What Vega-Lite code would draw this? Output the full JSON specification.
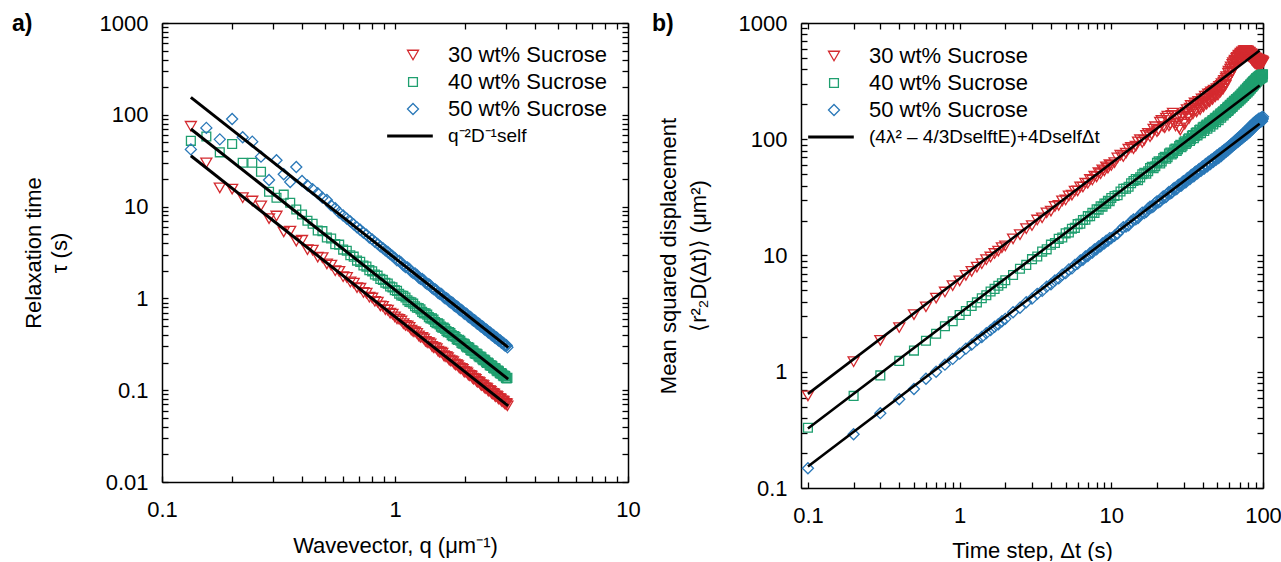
{
"$schema": "https://vega.github.io/schema/vega-lite/v6.json",
"background": "white",
"padding": {"left": 12, "top": 12, "right": 0, "bottom": 0},
"bounds": "flush",
"spacing": 173,
"datasets": {
"qa": [
{"q":0.133,"30":75,"40":52,"50":42},
{"q":0.155,"30":30,"40":58,"50":72},
{"q":0.177,"30":16,"40":39,"50":54},
{"q":0.200,"30":15.5,"40":48,"50":90},
{"q":0.222,"30":12.5,"40":30,"50":57},
{"q":0.244,"30":11.5,"40":30,"50":51},
{"q":0.266,"30":10.2,"40":24,"50":35},
{"q":0.288,"30":7.4,"40":14.5,"50":19.5},
{"q":0.310,"30":7.9,"40":12.5,"50":32},
{"q":0.333,"30":5.3,"40":13.5,"50":22.5},
{"q":0.355,"30":5.4,"40":11,"50":18.5},
{"q":0.377,"30":4.2,"40":9.3,"50":27},
{"q":0.399,"30":4.3,"40":8.2,"50":19},
{"q":0.421,"30":3.4,"40":7.0,"50":17},
{"q":0.443,"30":3.35,"40":6.5,"50":15.5},
{"q":0.466,"30":2.82,"40":5.5,"50":14},
{"q":0.488,"30":2.78,"40":5.4,"50":12.5},
{"q":0.510,"30":2.38,"40":4.6,"50":11.8},
{"q":0.532,"30":2.3,"40":4.5,"50":10.3},
{"q":0.554,"30":2.0,"40":3.9,"50":9.6},
{"q":0.576,"30":1.97,"40":3.85,"50":8.6},
{"q":0.599,"30":1.72,"40":3.4,"50":8.0},
{"q":0.621,"30":1.69,"40":3.3,"50":7.4},
{"q":0.643,"30":1.51,"40":2.95,"50":6.9},
{"q":0.665,"30":1.47,"40":2.85,"50":6.4},
{"q":0.687,"30":1.31,"40":2.58,"50":5.95},
{"q":0.709,"30":1.29,"40":2.5,"50":5.6},
{"q":0.732,"30":1.16,"40":2.28,"50":5.2},
{"q":0.754,"30":1.14,"40":2.22,"50":4.95},
{"q":0.776,"30":1.03,"40":2.03,"50":4.6},
{"q":0.798,"30":1.01,"40":1.97,"50":4.4},
{"q":0.820,"30":0.93,"40":1.82,"50":4.12},
{"q":0.842,"30":0.91,"40":1.77,"50":3.93},
{"q":0.865,"30":0.83,"40":1.63,"50":3.68},
{"q":0.887,"30":0.82,"40":1.59,"50":3.53},
{"q":0.909,"30":0.755,"40":1.48,"50":3.34},
{"q":0.931,"30":0.745,"40":1.45,"50":3.2},
{"q":0.953,"30":0.69,"40":1.35,"50":3.03},
{"q":0.975,"30":0.675,"40":1.32,"50":2.91},
{"q":0.998,"30":0.63,"40":1.23,"50":2.76},
{"q":1.042,"30":0.592,"40":1.125,"50":2.56},
{"q":1.086,"30":0.530,"40":1.066,"50":2.29},
{"q":1.131,"30":0.502,"40":0.955,"50":2.175},
{"q":1.175,"30":0.452,"40":0.909,"50":1.96},
{"q":1.219,"30":0.432,"40":0.822,"50":1.872},
{"q":1.264,"30":0.391,"40":0.786,"50":1.69},
{"q":1.308,"30":0.375,"40":0.713,"50":1.625},
{"q":1.352,"30":0.341,"40":0.687,"50":1.478},
{"q":1.397,"30":0.329,"40":0.625,"50":1.425},
{"q":1.441,"30":0.300,"40":0.606,"50":1.302},
{"q":1.485,"30":0.291,"40":0.553,"50":1.261},
{"q":1.530,"30":0.266,"40":0.537,"50":1.153},
{"q":1.574,"30":0.260,"40":0.493,"50":1.125},
{"q":1.618,"30":0.238,"40":0.480,"50":1.031},
{"q":1.663,"30":0.232,"40":0.442,"50":1.008},
{"q":1.707,"30":0.214,"40":0.431,"50":0.927},
{"q":1.751,"30":0.209,"40":0.398,"50":0.907},
{"q":1.796,"30":0.193,"40":0.390,"50":0.837},
{"q":1.840,"30":0.190,"40":0.360,"50":0.821},
{"q":1.884,"30":0.176,"40":0.354,"50":0.761},
{"q":1.929,"30":0.173,"40":0.328,"50":0.749},
{"q":1.973,"30":0.160,"40":0.323,"50":0.694},
{"q":2.017,"30":0.158,"40":0.300,"50":0.685},
{"q":2.062,"30":0.147,"40":0.295,"50":0.634},
{"q":2.106,"30":0.145,"40":0.275,"50":0.627},
{"q":2.150,"30":0.135,"40":0.272,"50":0.584},
{"q":2.195,"30":0.1334,"40":0.253,"50":0.578},
{"q":2.239,"30":0.1244,"40":0.251,"50":0.539},
{"q":2.283,"30":0.1233,"40":0.234,"50":0.534},
{"q":2.328,"30":0.1150,"40":0.232,"50":0.498},
{"q":2.372,"30":0.1142,"40":0.217,"50":0.494},
{"q":2.416,"30":0.1068,"40":0.2153,"50":0.463},
{"q":2.461,"30":0.1061,"40":0.2013,"50":0.460},
{"q":2.505,"30":0.0994,"40":0.2003,"50":0.430},
{"q":2.549,"30":0.0989,"40":0.1876,"50":0.428},
{"q":2.594,"30":0.0927,"40":0.1868,"50":0.401},
{"q":2.638,"30":0.0924,"40":0.1752,"50":0.400},
{"q":2.682,"30":0.0867,"40":0.1747,"50":0.375},
{"q":2.727,"30":0.0864,"40":0.1640,"50":0.375},
{"q":2.771,"30":0.0812,"40":0.1636,"50":0.352},
{"q":2.815,"30":0.0811,"40":0.1539,"50":0.351},
{"q":2.860,"30":0.0762,"40":0.1537,"50":0.330},
{"q":2.904,"30":0.0762,"40":0.1446,"50":0.330},
{"q":2.948,"30":0.0718,"40":0.1446,"50":0.311},
{"q":2.993,"30":0.0717,"40":0.1361,"50":0.311},
{"q":3.037,"30":0.0676,"40":0.1362,"50":0.293},
{"q":1.020,"30":0.599,"40":1.208,"50":2.596},
{"q":1.064,"30":0.567,"40":1.077,"50":2.457},
{"q":1.109,"30":0.507,"40":1.022,"50":2.196},
{"q":1.153,"30":0.483,"40":0.917,"50":2.093},
{"q":1.197,"30":0.435,"40":0.877,"50":1.885},
{"q":1.242,"30":0.416,"40":0.790,"50":1.804},
{"q":1.286,"30":0.377,"40":0.760,"50":1.634},
{"q":1.330,"30":0.363,"40":0.689,"50":1.572},
{"q":1.375,"30":0.330,"40":0.665,"50":1.429},
{"q":1.419,"30":0.319,"40":0.606,"50":1.383},
{"q":1.463,"30":0.291,"40":0.587,"50":1.261},
{"q":1.508,"30":0.283,"40":0.5365,"50":1.2246},
{"q":1.552,"30":0.259,"40":0.5215,"50":1.121},
{"q":1.596,"30":0.2525,"40":0.4792,"50":1.0938},
{"q":1.641,"30":0.2313,"40":0.4662,"50":1.002},
{"q":1.685,"30":0.2262,"40":0.4293,"50":0.9797},
{"q":1.729,"30":0.2086,"40":0.4203,"50":0.9034},
{"q":1.774,"30":0.2042,"40":0.3875,"50":0.8845},
{"q":1.818,"30":0.1887,"40":0.3802,"50":0.8173},
{"q":1.862,"30":0.1853,"40":0.3517,"50":0.8027},
{"q":1.907,"30":0.1715,"40":0.3456,"50":0.7428},
{"q":1.951,"30":0.1688,"40":0.3203,"50":0.7311},
{"q":1.995,"30":0.1567,"40":0.3158,"50":0.6788},
{"q":2.040,"30":0.1544,"40":0.2930,"50":0.6688},
{"q":2.084,"30":0.1436,"40":0.2894,"50":0.6220},
{"q":2.128,"30":0.1419,"40":0.2692,"50":0.6145},
{"q":2.173,"30":0.1321,"40":0.2661,"50":0.5721},
{"q":2.217,"30":0.1307,"40":0.2481,"50":0.5664},
{"q":2.261,"30":0.1220,"40":0.2458,"50":0.5283},
{"q":2.306,"30":0.1209,"40":0.2294,"50":0.5235},
{"q":2.350,"30":0.1129,"40":0.2276,"50":0.4891},
{"q":2.394,"30":0.1121,"40":0.2128,"50":0.4857},
{"q":2.439,"30":0.1048,"40":0.2112,"50":0.4540},
{"q":2.483,"30":0.1042,"40":0.1978,"50":0.4515},
{"q":2.527,"30":0.0976,"40":0.1968,"50":0.4230},
{"q":2.572,"30":0.0971,"40":0.1844,"50":0.4208},
{"q":2.616,"30":0.0911,"40":0.1836,"50":0.3946},
{"q":2.660,"30":0.0908,"40":0.1723,"50":0.3932},
{"q":2.705,"30":0.0852,"40":0.1717,"50":0.3692},
{"q":2.749,"30":0.0850,"40":0.1613,"50":0.3682},
{"q":2.793,"30":0.0800,"40":0.1611,"50":0.3462},
{"q":2.838,"30":0.0798,"40":0.1515,"50":0.3457},
{"q":2.882,"30":0.0751,"40":0.1513,"50":0.3252},
{"q":2.926,"30":0.0750,"40":0.1424,"50":0.3251},
{"q":2.971,"30":0.0706,"40":0.1424,"50":0.3060},
{"q":3.015,"30":0.0707,"40":0.1342,"50":0.3061}
],
"fa": [
{"q":0.133,"tau":35.8,"c":"30","series":"fit"},{"q":3.06,"tau":0.0676,"c":"30","series":"fit"},
{"q":0.133,"tau":70,"c":"40","series":"fit"},{"q":3.06,"tau":0.1322,"c":"40","series":"fit"},
{"q":0.133,"tau":155,"c":"50","series":"fit"},{"q":3.06,"tau":0.293,"c":"50","series":"fit"}
],
"tb": [
{"t":0.1,"30":0.62,"40":0.33,"50":0.148},
{"t":0.2,"30":1.22,"40":0.62,"50":0.29},
{"t":0.3,"30":1.86,"40":0.93,"50":0.44},
{"t":0.4,"30":2.4,"40":1.24,"50":0.58},
{"t":0.5,"30":3.1,"40":1.52,"50":0.71},
{"t":0.6,"30":3.62,"40":1.85,"50":0.87},
{"t":0.7,"30":4.3,"40":2.12,"50":1.0},
{"t":0.8,"30":4.85,"40":2.46,"50":1.15},
{"t":0.9,"30":5.5,"40":2.72,"50":1.29},
{"t":1.0,"30":6.05,"40":3.08,"50":1.43},
{"t":1.1,"30":6.75,"40":3.33,"50":1.58},
{"t":1.2,"30":7.3,"40":3.68,"50":1.71},
{"t":1.3,"30":7.95,"40":3.95,"50":1.87},
{"t":1.4,"30":8.5,"40":4.29,"50":1.99},
{"t":1.5,"30":9.2,"40":4.55,"50":2.15},
{"t":1.6,"30":9.7,"40":4.9,"50":2.28},
{"t":1.7,"30":10.4,"40":5.16,"50":2.44},
{"t":1.8,"30":10.9,"40":5.5,"50":2.56},
{"t":1.9,"30":11.7,"40":5.78,"50":2.72},
{"t":2.0,"30":12.1,"40":6.12,"50":2.85},
{"t":2.25,"30":13.9,"40":6.8,"50":3.25},
{"t":2.5,"30":15.1,"40":7.7,"50":3.55},
{"t":2.75,"30":17.0,"40":8.3,"50":3.96},
{"t":3.0,"30":18.1,"40":9.3,"50":4.25},
{"t":3.25,"30":20.2,"40":9.8,"50":4.68},
{"t":3.5,"30":21.1,"40":10.8,"50":4.96},
{"t":3.75,"30":23.3,"40":11.3,"50":5.4},
{"t":4.0,"30":24.1,"40":12.4,"50":5.66},
{"t":4.25,"30":26.4,"40":12.8,"50":6.1},
{"t":4.5,"30":27.0,"40":13.9,"50":6.35},
{"t":4.75,"30":29.5,"40":14.3,"50":6.85},
{"t":5.0,"30":30.0,"40":15.5,"50":7.05},
{"t":5.25,"30":32.6,"40":15.8,"50":7.6},
{"t":5.5,"30":33.1,"40":17.0,"50":7.75},
{"t":5.75,"30":35.8,"40":17.3,"50":8.3},
{"t":6.0,"30":36.0,"40":18.6,"50":8.5},
{"t":6.25,"30":38.9,"40":18.8,"50":9.05},
{"t":6.5,"30":38.8,"40":20.2,"50":9.2},
{"t":6.75,"30":42.0,"40":20.3,"50":9.8},
{"t":7.0,"30":41.8,"40":21.8,"50":9.9},
{"t":7.25,"30":45.1,"40":21.8,"50":10.5},
{"t":7.5,"30":44.6,"40":23.3,"50":10.6},
{"t":7.75,"30":48.2,"40":23.2,"50":11.3},
{"t":8.0,"30":47.5,"40":25.0,"50":11.3},
{"t":8.25,"30":51.5,"40":24.8,"50":12.0},
{"t":8.5,"30":50.5,"40":26.5,"50":12.0},
{"t":8.75,"30":54.5,"40":26.3,"50":12.7},
{"t":9.0,"30":53.5,"40":28.0,"50":12.7},
{"t":9.25,"30":57.8,"40":27.9,"50":13.4},
{"t":9.5,"30":56.5,"40":29.5,"50":13.4},
{"t":9.75,"30":60.5,"40":29.3,"50":14.1},
{"t":10,"30":59.5,"40":31.2,"50":14.1},
{"t":11,"30":69,"40":33,"50":15.4},
{"t":12,"30":71,"40":37.5,"50":17.5},
{"t":13,"30":82,"40":39,"50":18.2},
{"t":14,"30":83,"40":43.8,"50":20.4},
{"t":15,"30":95,"40":44.5,"50":21.0},
{"t":16,"30":94,"40":50,"50":23.4},
{"t":17,"30":108,"40":50.5,"50":23.7},
{"t":18,"30":105,"40":56.5,"50":26.3},
{"t":19,"30":122,"40":56.3,"50":26.5},
{"t":20,"30":116,"40":62.8,"50":29.2},
{"t":21,"30":140,"40":62,"50":29.2},
{"t":22,"30":128,"40":69,"50":32.3},
{"t":23,"30":152,"40":68,"50":31.9},
{"t":24,"30":130,"40":75.5,"50":35.2},
{"t":25,"30":160,"40":74,"50":34.6},
{"t":26,"30":138,"40":81.5,"50":38.1},
{"t":27,"30":150,"40":79.5,"50":37.3},
{"t":28,"30":125,"40":87.5,"50":40.8},
{"t":29,"30":155,"40":85.5,"50":40.0},
{"t":30,"30":140,"40":93.5,"50":43.6},
{"t":31,"30":170,"40":91,"50":42.7},
{"t":32,"30":158,"40":100,"50":46.5},
{"t":33,"30":185,"40":96.5,"50":45.4},
{"t":34,"30":172,"40":107,"50":49.5},
{"t":35,"30":195,"40":102,"50":48.0},
{"t":36,"30":178,"40":113,"50":52.6},
{"t":37,"30":200,"40":108,"50":50.8},
{"t":38,"30":185,"40":120,"50":55.5},
{"t":39,"30":210,"40":113,"50":53.4},
{"t":40,"30":195,"40":126,"50":58.4},
{"t":41,"30":222,"40":118,"50":56.0},
{"t":42,"30":205,"40":131,"50":61.2},
{"t":43,"30":235,"40":123,"50":58.6},
{"t":44,"30":215,"40":137,"50":64.0},
{"t":45,"30":248,"40":128,"50":61.2},
{"t":46,"30":226,"40":143,"50":66.8},
{"t":47,"30":258,"40":134,"50":63.8},
{"t":48,"30":238,"40":150,"50":69.6},
{"t":49,"30":262,"40":140,"50":66.5},
{"t":50,"30":245,"40":157,"50":72.4},
{"t":51,"30":275,"40":146,"50":69.0},
{"t":52,"30":258,"40":164,"50":75.2},
{"t":53,"30":290,"40":153,"50":71.8},
{"t":54,"30":272,"40":171,"50":78.0},
{"t":55,"30":310,"40":160,"50":74.8},
{"t":56,"30":295,"40":178,"50":81.0},
{"t":57,"30":335,"40":168,"50":77.8},
{"t":58,"30":320,"40":186,"50":84.2},
{"t":59,"30":370,"40":175,"50":80.8},
{"t":60,"30":345,"40":194,"50":87.5},
{"t":61,"30":400,"40":183,"50":84.0},
{"t":62,"30":375,"40":203,"50":91.0},
{"t":63,"30":440,"40":190,"50":87.2},
{"t":64,"30":410,"40":210,"50":94.5},
{"t":65,"30":470,"40":198,"50":90.5},
{"t":66,"30":440,"40":218,"50":98.0},
{"t":67,"30":495,"40":205,"50":93.8},
{"t":68,"30":460,"40":226,"50":101.5},
{"t":69,"30":520,"40":212,"50":97.0},
{"t":70,"30":480,"40":234,"50":105},
{"t":71,"30":540,"40":220,"50":100.5},
{"t":72,"30":500,"40":243,"50":108.5},
{"t":73,"30":560,"40":228,"50":104},
{"t":74,"30":520,"40":252,"50":112},
{"t":75,"30":575,"40":236,"50":107.5},
{"t":76,"30":530,"40":262,"50":116},
{"t":77,"30":580,"40":245,"50":111},
{"t":78,"30":530,"40":272,"50":120},
{"t":79,"30":575,"40":253,"50":114.5},
{"t":80,"30":520,"40":282,"50":124},
{"t":81,"30":560,"40":262,"50":118},
{"t":82,"30":510,"40":292,"50":128},
{"t":83,"30":545,"40":272,"50":122},
{"t":84,"30":490,"40":302,"50":132},
{"t":85,"30":530,"40":282,"50":126},
{"t":86,"30":470,"40":312,"50":136},
{"t":87,"30":510,"40":292,"50":130},
{"t":88,"30":455,"40":322,"50":140},
{"t":89,"30":500,"40":302,"50":134},
{"t":90,"30":445,"40":332,"50":144},
{"t":91,"30":490,"40":312,"50":138},
{"t":92,"30":440,"40":340,"50":147},
{"t":93,"30":485,"40":322,"50":141},
{"t":94,"30":440,"40":348,"50":150},
{"t":95,"30":480,"40":330,"50":144},
{"t":96,"30":445,"40":355,"50":152},
{"t":97,"30":475,"40":335,"50":146},
{"t":98,"30":450,"40":358,"50":154},
{"t":99,"30":470,"40":340,"50":148},
{"t":100,"30":455,"40":362,"50":156},
{"t":10.5,"30":63,"40":32.5,"50":14.8},
{"t":11.5,"30":73,"40":35.5,"50":16.6},
{"t":12.5,"30":76,"40":37.6,"50":17.7},
{"t":13.5,"30":85,"40":41.8,"50":19.6},
{"t":14.5,"30":87,"40":45.5,"50":20.5},
{"t":15.5,"30":99,"40":47,"50":22.4},
{"t":16.5,"30":98,"40":51.5,"50":23.2},
{"t":17.5,"30":112,"40":53,"50":25.4},
{"t":18.5,"30":110,"40":58,"50":26.0},
{"t":19.5,"30":128,"40":58.5,"50":28.4},
{"t":20.5,"30":120,"40":64.5,"50":28.7},
{"t":21.5,"30":145,"40":64.5,"50":31.2},
{"t":22.5,"30":126,"40":70.5,"50":31.5},
{"t":23.5,"30":158,"40":70,"50":34.2},
{"t":24.5,"30":135,"40":77,"50":34.3},
{"t":25.5,"30":168,"40":76,"50":37.2},
{"t":26.5,"30":130,"40":83,"50":37.0},
{"t":27.5,"30":160,"40":82,"50":40.1},
{"t":28.5,"30":120,"40":89.5,"50":39.9},
{"t":29.5,"30":165,"40":88,"50":43.0},
{"t":30.5,"30":135,"40":96,"50":42.6},
{"t":31.5,"30":180,"40":94,"50":45.9},
{"t":32.5,"30":150,"40":102,"50":45.5},
{"t":33.5,"30":195,"40":100,"50":48.8},
{"t":34.5,"30":165,"40":108.5,"50":48.2},
{"t":35.5,"30":205,"40":106,"50":51.8},
{"t":36.5,"30":172,"40":115,"50":51.0},
{"t":37.5,"30":212,"40":112,"50":54.6},
{"t":38.5,"30":180,"40":121,"50":53.8},
{"t":39.5,"30":222,"40":118,"50":57.6},
{"t":40.5,"30":190,"40":128,"50":56.5},
{"t":41.5,"30":235,"40":124,"50":60.5},
{"t":42.5,"30":200,"40":134,"50":59.3},
{"t":43.5,"30":245,"40":130,"50":63.4},
{"t":44.5,"30":210,"40":140,"50":62.0},
{"t":45.5,"30":255,"40":136,"50":66.3},
{"t":46.5,"30":220,"40":146,"50":64.9},
{"t":47.5,"30":265,"40":142,"50":69.2},
{"t":48.5,"30":232,"40":153,"50":67.7},
{"t":49.5,"30":272,"40":148,"50":72.1},
{"t":50.5,"30":240,"40":160,"50":70.4},
{"t":51.5,"30":285,"40":154,"50":75.0},
{"t":52.5,"30":255,"40":167,"50":73.2},
{"t":53.5,"30":300,"40":160,"50":77.9},
{"t":54.5,"30":270,"40":174,"50":76.0},
{"t":55.5,"30":320,"40":166,"50":80.9},
{"t":56.5,"30":290,"40":182,"50":78.8},
{"t":57.5,"30":345,"40":172,"50":83.8},
{"t":58.5,"30":325,"40":190,"50":81.6},
{"t":59.5,"30":385,"40":178,"50":86.7},
{"t":60.5,"30":350,"40":198,"50":84.3},
{"t":61.5,"30":420,"40":186,"50":89.6},
{"t":62.5,"30":380,"40":206,"50":87.2},
{"t":63.5,"30":455,"40":194,"50":92.5},
{"t":64.5,"30":420,"40":214,"50":90.0},
{"t":65.5,"30":480,"40":202,"50":95.5},
{"t":66.5,"30":450,"40":222,"50":92.8},
{"t":67.5,"30":505,"40":208,"50":98.4},
{"t":68.5,"30":470,"40":230,"50":95.6},
{"t":69.5,"30":530,"40":216,"50":101.3},
{"t":70.5,"30":490,"40":238,"50":98.5},
{"t":71.5,"30":550,"40":224,"50":104.3},
{"t":72.5,"30":510,"40":247,"50":101.3},
{"t":73.5,"30":565,"40":232,"50":107.3},
{"t":74.5,"30":525,"40":257,"50":104.5},
{"t":75.5,"30":578,"40":240,"50":110.5},
{"t":76.5,"30":535,"40":267,"50":107.5},
{"t":77.5,"30":580,"40":249,"50":113.8},
{"t":78.5,"30":525,"40":277,"50":110.5},
{"t":79.5,"30":570,"40":258,"50":117},
{"t":80.5,"30":515,"40":287,"50":113.5},
{"t":81.5,"30":555,"40":267,"50":121},
{"t":82.5,"30":500,"40":297,"50":117},
{"t":83.5,"30":540,"40":277,"50":125},
{"t":84.5,"30":480,"40":307,"50":121},
{"t":85.5,"30":520,"40":287,"50":129},
{"t":86.5,"30":462,"40":317,"50":125},
{"t":87.5,"30":505,"40":297,"50":133},
{"t":88.5,"30":450,"40":327,"50":129},
{"t":89.5,"30":495,"40":307,"50":137},
{"t":90.5,"30":442,"40":336,"50":133},
{"t":91.5,"30":488,"40":317,"50":141},
{"t":92.5,"30":440,"40":344,"50":136},
{"t":93.5,"30":482,"40":326,"50":144},
{"t":94.5,"30":440,"40":352,"50":139},
{"t":95.5,"30":478,"40":333,"50":147},
{"t":96.5,"30":448,"40":356,"50":141},
{"t":97.5,"30":472,"40":338,"50":149},
{"t":98.5,"30":452,"40":360,"50":143},
{"t":99.5,"30":462,"40":345,"50":151}
],
"fb": [
{"t":0.1,"m":0.645,"c":"30","series":"fit"},{"t":95,"m":580,"c":"30","series":"fit"},
{"t":0.1,"m":0.325,"c":"40","series":"fit"},{"t":95,"m":290,"c":"40","series":"fit"},
{"t":0.1,"m":0.153,"c":"50","series":"fit"},{"t":95,"m":136,"c":"50","series":"fit"}
]
},
"hconcat": [
{
"width": 466, "height": 459,
"title": {"text": "a)", "dx": -150, "dy": 28},
"layer": [
{
"data": {"name": "qa"},
"transform": [{"fold": ["30","40","50"], "as": ["series","tau"]}],
"mark": {"type": "point", "filled": false, "size": 121, "strokeWidth": 1.3, "opacity": 1},
"encoding": {
"x": {"field": "q", "type": "quantitative",
 "scale": {"type": "log", "domain": [0.1, 10], "nice": false},
 "axis": {"orient": "bottom", "values": [0.1,0.2,0.3,0.4,0.5,0.6,0.7,0.8,0.9,1,2,3,4,5,6,7,8,9,10],
  "labelExpr": "indexof([0.1,1,10], datum.value) >= 0 ? format(datum.value, '~g') : ''",
  "title": "Wavevector, q (μm⁻¹)", "titlePadding": 15}},
"y": {"field": "tau", "type": "quantitative",
 "scale": {"type": "log", "domain": [0.01, 1000], "nice": false},
 "axis": {"orient": "left", "values": [0.01,0.02,0.03,0.04,0.05,0.06,0.07,0.08,0.09,0.1,0.2,0.3,0.4,0.5,0.6,0.7,0.8,0.9,1,2,3,4,5,6,7,8,9,10,20,30,40,50,60,70,80,90,100,200,300,400,500,600,700,800,900,1000],
  "labelExpr": "indexof([0.01,0.1,1,10,100,1000], datum.value) >= 0 ? format(datum.value, '~g') : ''",
  "title": ["Relaxation time", "τ (s)"], "titlePadding": 28, "titleLineHeight": 26}},
"color": {"field": "series", "type": "nominal",
 "scale": {"domain": ["30","40","50","fit"], "range": ["#d42a2f","#1f9f6f","#2a78b8","#000000"]},
 "legend": {"orient": "top-right", "offset": 16, "padding": 5, "title": null, "labelLimit": 500,
  "labelExpr": "datum.value == 'fit' ? 'q⁻²D⁻¹self' : datum.value + ' wt% Sucrose'",
  "labelFontSize": {"expr": "datum.value == 'fit' ? 19 : 22"},
  "symbolType": {"expr": "datum.value == '30' ? 'triangle-down' : datum.value == '40' ? 'M-0.8,-0.8H0.8V0.8H-0.8Z' : datum.value == '50' ? 'diamond' : 'M-4.7,0H3.6'"},
  "symbolStrokeWidth": {"expr": "datum.value == 'fit' ? 3 : 1.3"}}},
"shape": {"field": "series", "type": "nominal", "legend": null,
 "scale": {"domain": ["30","40","50","fit"], "range": ["triangle-down","M-0.8,-0.8H0.8V0.8H-0.8Z","diamond","M-4.7,0H3.6"]}}
}
},
{
"data": {"name": "fa"},
"mark": {"type": "line", "strokeWidth": 3},
"encoding": {
"x": {"field": "q", "type": "quantitative", "axis": {"orient": "top", "values": [0.1,0.2,0.3,0.4,0.5,0.6,0.7,0.8,0.9,1,2,3,4,5,6,7,8,9,10], "labels": false, "title": null}},
"y": {"field": "tau", "type": "quantitative", "axis": {"orient": "right", "values": [0.01,0.02,0.03,0.04,0.05,0.06,0.07,0.08,0.09,0.1,0.2,0.3,0.4,0.5,0.6,0.7,0.8,0.9,1,2,3,4,5,6,7,8,9,10,20,30,40,50,60,70,80,90,100,200,300,400,500,600,700,800,900,1000], "labels": false, "title": null}},
"color": {"field": "series", "type": "nominal", "legend": null},
"detail": {"field": "c"}
}
}
],
"resolve": {"axis": {"x": "independent", "y": "independent"}}
},
{
"width": 462, "height": 465,
"title": {"text": "b)", "dx": -149, "dy": 28},
"layer": [
{
"data": {"name": "tb"},
"transform": [{"fold": ["30","40","50"], "as": ["series","msd"]}],
"mark": {"type": "point", "filled": false, "size": 121, "strokeWidth": 1.3, "opacity": 1},
"encoding": {
"x": {"field": "t", "type": "quantitative",
 "scale": {"type": "log", "domain": [0.09, 100], "nice": false},
 "axis": {"orient": "bottom", "values": [0.1,0.2,0.3,0.4,0.5,0.6,0.7,0.8,0.9,1,2,3,4,5,6,7,8,9,10,20,30,40,50,60,70,80,90,100],
  "labelExpr": "indexof([0.1,1,10,100], datum.value) >= 0 ? format(datum.value, '~g') : ''",
  "title": "Time step, Δt (s)", "titlePadding": 14}},
"y": {"field": "msd", "type": "quantitative",
 "scale": {"type": "log", "domain": [0.1, 1000], "nice": false},
 "axis": {"orient": "left", "values": [0.1,0.2,0.3,0.4,0.5,0.6,0.7,0.8,0.9,1,2,3,4,5,6,7,8,9,10,20,30,40,50,60,70,80,90,100,200,300,400,500,600,700,800,900,1000],
  "labelExpr": "indexof([0.1,1,10,100,1000], datum.value) >= 0 ? format(datum.value, '~g') : ''",
  "title": ["Mean squared displacement", "⟨r²₂D(Δt)⟩ (μm²)"], "titlePadding": 28, "titleLineHeight": 30}},
"color": {"field": "series", "type": "nominal",
 "scale": {"domain": ["30","40","50","fit"], "range": ["#d42a2f","#1f9f6f","#2a78b8","#000000"]},
 "legend": {"orient": "top-left", "offset": 22, "title": null, "labelLimit": 500,
  "labelExpr": "datum.value == 'fit' ? '(4λ² – 4/3DselftE)+4DselfΔt' : datum.value + ' wt% Sucrose'",
  "labelFontSize": {"expr": "datum.value == 'fit' ? 19 : 22"},
  "symbolType": {"expr": "datum.value == '30' ? 'triangle-down' : datum.value == '40' ? 'M-0.8,-0.8H0.8V0.8H-0.8Z' : datum.value == '50' ? 'diamond' : 'M-4.7,0H3.6'"},
  "symbolStrokeWidth": {"expr": "datum.value == 'fit' ? 3 : 1.3"}}},
"shape": {"field": "series", "type": "nominal", "legend": null,
 "scale": {"domain": ["30","40","50","fit"], "range": ["triangle-down","M-0.8,-0.8H0.8V0.8H-0.8Z","diamond","M-4.7,0H3.6"]}}
}
},
{
"data": {"name": "fb"},
"mark": {"type": "line", "strokeWidth": 2.6},
"encoding": {
"x": {"field": "t", "type": "quantitative", "axis": {"orient": "top", "values": [0.1,0.2,0.3,0.4,0.5,0.6,0.7,0.8,0.9,1,2,3,4,5,6,7,8,9,10,20,30,40,50,60,70,80,90,100], "labels": false, "title": null}},
"y": {"field": "m", "type": "quantitative", "axis": {"orient": "right", "values": [0.1,0.2,0.3,0.4,0.5,0.6,0.7,0.8,0.9,1,2,3,4,5,6,7,8,9,10,20,30,40,50,60,70,80,90,100,200,300,400,500,600,700,800,900,1000], "labels": false, "title": null}},
"color": {"field": "series", "type": "nominal", "legend": null},
"detail": {"field": "c"}
}
}
],
"resolve": {"axis": {"x": "independent", "y": "independent"}}
}
],
"config": {
"font": "Liberation Sans",
"view": {"stroke": null},
"axis": {"domainColor": "black", "domainWidth": 1.5, "tickColor": "black", "tickWidth": 1.3, "tickSize": -6,
 "labelFont": "Liberation Sans", "labelFontSize": 22, "labelColor": "black", "labelFlush": false, "labelOverlap": false,
 "titleFont": "Liberation Sans", "titleFontSize": 22, "titleFontWeight": "normal", "titleColor": "black", "grid": false},
"axisX": {"labelPadding": 23},
"axisY": {"labelPadding": 20},
"legend": {"labelFont": "Liberation Sans", "labelColor": "black", "symbolSize": 121, "rowPadding": 5, "padding": 0, "labelOffset": 24},
"title": {"font": "Liberation Sans", "fontSize": 23, "fontWeight": "bold", "anchor": "start", "frame": "group", "offset": 0, "baseline": "alphabetic", "color": "black"}
}
}
